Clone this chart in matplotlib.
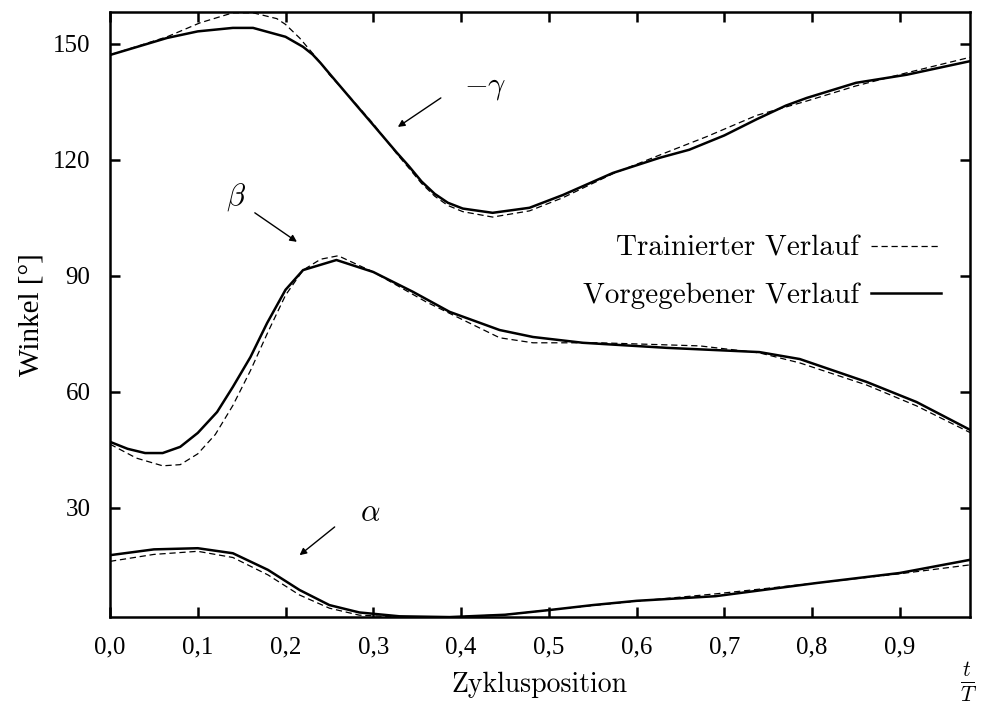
import matplotlib
matplotlib.use('Agg')
import matplotlib.pyplot as plt

plt.rcParams['mathtext.fontset'] = 'cm'

# Zyklusposition t/T, Winkel in Grad
x_gamma = [0, 0.065, 0.1, 0.14, 0.163, 0.2, 0.21, 0.22, 0.231, 0.24, 0.25, 0.265, 0.28, 0.3, 0.327,
           0.34, 0.355, 0.37, 0.385, 0.402, 0.436, 0.478, 0.516, 0.573, 0.626, 0.66, 0.7, 0.737, 0.77,
           0.794, 0.85, 0.908, 0.98]
gamma_vorg = [147.1, 151.5, 153.2, 154.1, 154.1, 151.8, 150.5, 149.2, 147.2, 145.0, 142.3, 138.3, 134.3,
              129.0, 121.8, 118.5, 114.4, 111.2, 108.9, 107.4, 106.3, 107.6, 110.9, 116.6, 120.5, 122.6,
              126.3, 130.5, 134.0, 136.0, 139.9, 142.0, 145.5]
x_gamma_tr = [0, 0.065, 0.1025, 0.14, 0.163, 0.19, 0.2, 0.216, 0.231, 0.243, 0.25, 0.265, 0.28, 0.3,
              0.327, 0.34, 0.355, 0.37, 0.385, 0.402, 0.436, 0.478, 0.516, 0.573, 0.626, 0.68, 0.737,
              0.794, 0.85, 0.908, 0.98]
gamma_train = [147.1, 151.8, 155.4, 158.0, 158.0, 156.5, 155.0, 151.5, 147.5, 144.2, 142.0, 138.3, 134.5,
               129.3, 121.5, 118.0, 113.9, 110.6, 108.2, 106.6, 105.2, 106.8, 110.2, 116.4, 121.2, 126.0,
               131.5, 135.2, 139.1, 142.5, 146.5]

x_beta = [0, 0.02, 0.04, 0.06, 0.08, 0.1, 0.122, 0.14, 0.16, 0.179, 0.2, 0.22, 0.258, 0.3, 0.345,
          0.387, 0.444, 0.482, 0.539, 0.634, 0.74, 0.786, 0.862, 0.919, 0.98]
beta_vorg = [47.1, 45.3, 44.2, 44.2, 45.8, 49.4, 54.8, 61.3, 69.0, 77.8, 86.4, 91.5, 94.1, 91.0, 85.9,
             80.7, 76.0, 74.2, 72.7, 71.4, 70.3, 68.5, 62.6, 57.4, 50.2]
x_beta_tr = [0, 0.03, 0.06, 0.08, 0.1, 0.12, 0.14, 0.16, 0.18, 0.2, 0.22, 0.24, 0.26, 0.3, 0.36,
             0.444, 0.482, 0.558, 0.672, 0.74, 0.786, 0.862, 0.919, 0.98]
beta_train = [46.5, 42.9, 40.9, 41.2, 44.0, 49.0, 56.5, 65.5, 75.5, 85.0, 91.5, 94.3, 95.2, 91.0, 83.3,
              74.0, 72.7, 72.7, 71.9, 70.1, 67.5, 61.8, 56.4, 49.5]

x_alpha = [0, 0.05, 0.1, 0.14, 0.18, 0.216, 0.25, 0.284, 0.33, 0.387, 0.45, 0.5, 0.55, 0.6, 0.69,
           0.805, 0.9, 0.98]
alpha_vorg = [17.8, 19.3, 19.6, 18.3, 14.0, 8.8, 4.9, 3.0, 2.0, 1.8, 2.4, 3.6, 4.9, 6.0, 7.2,
              10.6, 13.2, 16.6]
alpha_train = [16.2, 18.0, 18.8, 17.2, 12.7, 7.5, 4.1, 2.3, 1.8, 1.8, 2.4, 3.6, 4.8, 5.9, 7.8,
               10.6, 13.0, 15.3]

x_ticks = [0.0, 0.1, 0.2, 0.3, 0.4, 0.5, 0.6, 0.7, 0.8, 0.9]
y_ticks = [30, 60, 90, 120, 150]


fig = plt.figure(figsize=(9.84, 7.06), dpi=100)
ax = fig.add_axes([0.1118, 0.1265, 0.874, 0.857])

tr_kw = dict(color='black', linewidth=0.9, linestyle=(0, (5, 3)))
vg_kw = dict(color='black', linewidth=1.8)

ax.plot(x_gamma_tr, gamma_train, label='Trainierter Verlauf', **tr_kw)
ax.plot(x_gamma, gamma_vorg, label='Vorgegebener Verlauf', **vg_kw)
ax.plot(x_beta_tr, beta_train, **tr_kw)
ax.plot(x_beta, beta_vorg, **vg_kw)
ax.plot(x_alpha, alpha_train, **tr_kw)
ax.plot(x_alpha, alpha_vorg, **vg_kw)

ax.set_xlim(0, 0.98)
ax.set_ylim(1.9, 158.3)
ax.set_xticks(x_ticks)
ax.set_xticklabels(['{:.1f}'.format(v).replace('.', ',') for v in x_ticks])
ax.set_yticks(y_ticks)

for lab in ax.get_xticklabels() + ax.get_yticklabels():
    lab.set_fontfamily('Liberation Serif')
    lab.set_fontsize(18)

ax.tick_params(direction='in', length=7, width=1.8, top=True, right=True, pad=14)
for sp in ax.spines.values():
    sp.set_linewidth(1.8)

ax.set_xlabel('Zyklusposition', fontfamily='cmr10', fontsize=20, labelpad=10)
ax.set_ylabel('Winkel [°]', fontfamily='Liberation Serif', fontsize=21, labelpad=6)
fig.text(0.984, 0.034, r'$\frac{t}{T}$', fontsize=22, ha='center', va='center')

arrow = dict(arrowstyle='-|>', color='black', lw=1.0, mutation_scale=10, shrinkA=0, shrinkB=0)
ax.annotate('', xy=(0.328, 128.5), xytext=(0.377, 136.0), arrowprops=arrow)
ax.text(0.427, 138.6, r'$-\gamma$', fontsize=22, ha='center', va='center')
ax.annotate('', xy=(0.213, 98.8), xytext=(0.165, 106.3), arrowprops=arrow)
ax.text(0.1435, 110.4, r'$\beta$', fontsize=22, ha='center', va='center')
ax.annotate('', xy=(0.216, 17.8), xytext=(0.256, 25.1), arrowprops=arrow)
ax.text(0.296, 28.7, r'$\alpha$', fontsize=22, ha='center', va='center')

leg = ax.legend(loc='upper right', bbox_to_anchor=(0.966, 0.63), frameon=False, markerfirst=False,
                prop={'family': 'cmr10', 'size': 21}, handlelength=2.4, handletextpad=0.4,
                labelspacing=0.72, borderpad=0, borderaxespad=0)

fig.savefig('out.png', dpi=100)
